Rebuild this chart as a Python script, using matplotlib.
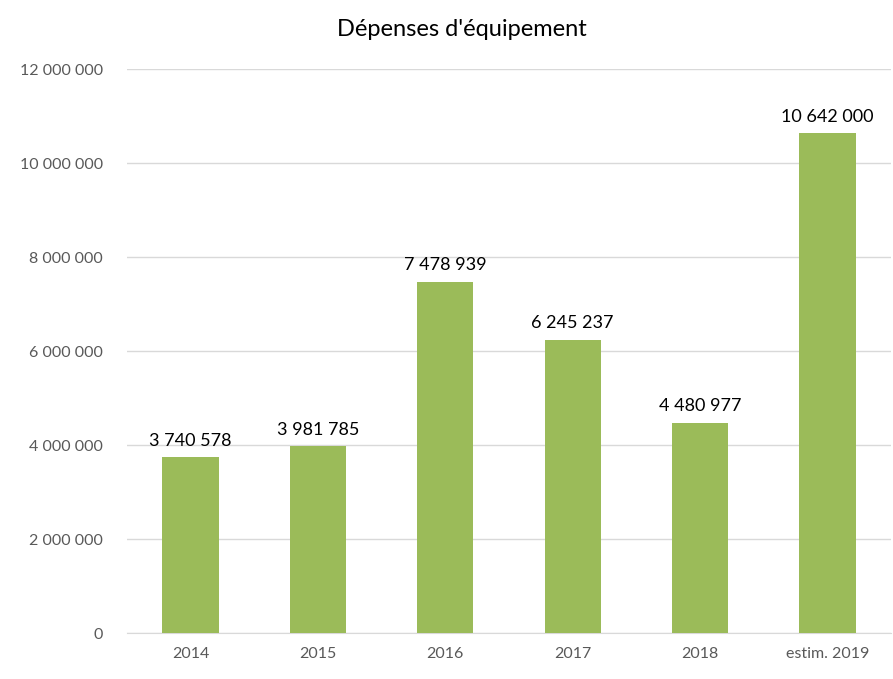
import matplotlib
matplotlib.use("Agg")
import matplotlib.pyplot as plt
from matplotlib.ticker import FuncFormatter

categories = ["2014", "2015", "2016", "2017", "2018", "estim. 2019"]
values = [3740578, 3981785, 7478939, 6245237, 4480977, 10642000]
yticks = [0, 2000000, 4000000, 6000000, 8000000, 10000000, 12000000]

plt.rcParams['font.family'] = ['Lato', 'DejaVu Sans']

def fmt(v):
    return f"{int(v):,}".replace(",", " ")

fig = plt.figure(figsize=(8.93, 6.79), dpi=100)
ax = fig.add_axes([0.142, 0.0677, 0.856, 0.8303])
x = range(len(categories))
ax.bar(x, values, width=0.44, color="#9BBB59", zorder=3)
for xi, v in zip(x, values):
    ax.annotate(fmt(v), (xi, v), xytext=(0, 6), textcoords="offset points",
                ha="center", va="bottom", fontsize=13, color="#000000")
ax.set_xlim(-0.5, len(categories) - 0.5)
ax.set_ylim(0, 12000000)
ax.set_yticks(yticks)
ax.yaxis.set_major_formatter(FuncFormatter(lambda v, p: fmt(v)))
ax.set_xticks(list(x))
ax.set_xticklabels(categories)
ax.grid(axis="y", color="#D9D9D9", linewidth=1, zorder=0)
for s in ["top", "right", "left"]:
    ax.spines[s].set_visible(False)
ax.spines["bottom"].set_color("#D9D9D9")
ax.tick_params(axis="both", length=0, labelsize=11.5, colors="#595959")
ax.tick_params(axis="y", pad=17)
ax.tick_params(axis="x", pad=10)
fig.text(0.517, 0.957, "Dépenses d'équipement", ha="center", va="center", fontsize=17, color="#000000")
fig.savefig("out.png", dpi=100)
